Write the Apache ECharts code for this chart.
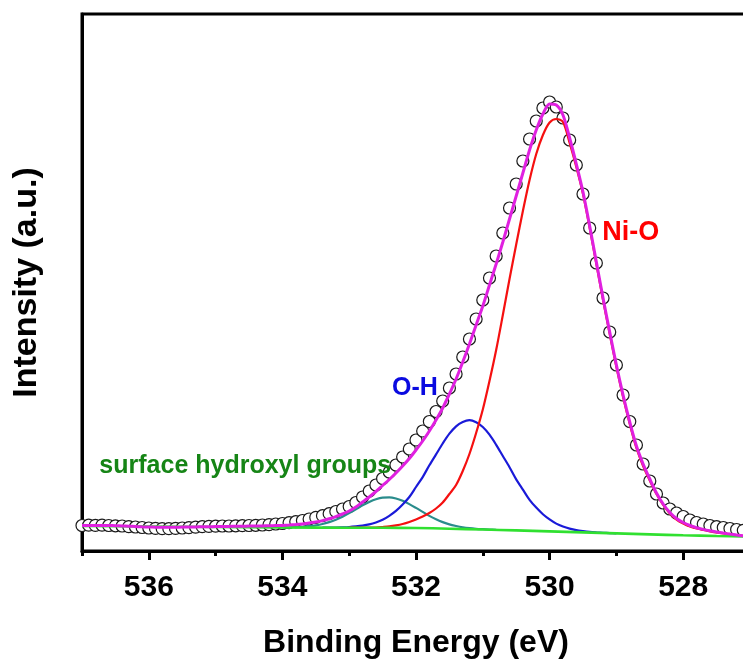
<!DOCTYPE html>
<html>
<head>
<meta charset="utf-8">
<script src="https://cdn.jsdelivr.net/npm/echarts@6/dist/echarts.min.js"></script>
<style>html,body{margin:0;padding:0;background:#fff}#c{width:743px;height:659px}</style>
</head>
<body>
<div id="c"></div>
<script>
// Binding energy grid (eV), 537.0 -> 527.0
var energy = [537.0,536.9,536.8,536.7,536.6,536.5,536.4,536.3,536.2,536.1,
536.0,535.9,535.8,535.7,535.6,535.5,535.4,535.3,535.2,535.1,
535.0,534.9,534.8,534.7,534.6,534.5,534.4,534.3,534.2,534.1,
534.0,533.9,533.8,533.7,533.6,533.5,533.4,533.3,533.2,533.1,
533.0,532.9,532.8,532.7,532.6,532.5,532.4,532.3,532.2,532.1,
532.0,531.9,531.8,531.7,531.6,531.5,531.4,531.3,531.2,531.1,
531.0,530.9,530.8,530.7,530.6,530.5,530.4,530.3,530.2,530.1,
530.0,529.9,529.8,529.7,529.6,529.5,529.4,529.3,529.2,529.1,
529.0,528.9,528.8,528.7,528.6,528.5,528.4,528.3,528.2,528.1,
528.0,527.9,527.8,527.7,527.6,527.5,527.4,527.3,527.2,527.1,
527.0];
// measured intensity (open circles)
var measured = [25.5,25.8,25.6,25.9,25.5,25.2,25.0,24.4,24.0,23.5,
23.0,22.6,22.4,22.3,22.6,23.0,23.4,23.9,24.3,24.6,
24.8,25.0,25.0,25.2,25.3,25.5,25.7,26.0,26.4,27.0,
27.5,28.3,29.3,30.5,32,33.6,35.3,37.3,39.5,42,
44.5,48.5,54,60,66,72.5,79,86,94,102,
111,120,129.5,139.5,150,163,177,194,212,232,
251,273,295,318,343,367,390,412,430,443,
449,444,433,411,386,357,323,288,253,219,
186,156,129.5,106,87,70,57,48,42,38,
34.5,31,28.5,27,25.5,24.3,23.5,22.5,21.5,20.7,
20];
// fitted envelope (magenta)
var envelope = [25.5,25.5,25.6,25.6,25.5,25.3,25.1,24.8,24.5,24.2,
24.0,23.8,23.7,23.7,23.8,23.9,24.0,24.1,24.2,24.3,
24.4,24.5,24.6,24.7,24.8,24.9,25.0,25.1,25.2,25.4,
25.6,26.0,26.5,27.1,27.9,29.0,30.4,32.2,34.4,37.0,
40,44,49,54,59.5,65.5,71.5,78,85,92.5,
101,110,120,131,143,157,172,189,207,226,
245,266,287,309,332,355,378,401,421,437,
447,446,436,413,387,359,325,289,253,219,
186,156,129,105,87,72,58,47,38.5,32.5,
28.5,25.5,23.3,21.6,20.2,19,17.9,16.9,16,15.2,
14.5];
// Ni-O component (red), 533.0 -> 527.0
var niO = [23.3,23.3,23.3,23.3,23.5,24,24.6,25.6,27,29,
31.5,34.5,38,42.5,48.5,57,66,80,97,118,
141.5,170,201,236,272,306.5,340,371,397,416,
428.5,432,429,408,384,357,323,287,251,217,
184,154,127,103,85,70.5,57,46,37.5,31.5,
27.5,24.5,22.5,21,19.7,18.5,17.5,16.6,15.8,15,
14.4];
// O-H component (blue), 533.4 -> 529.0
var oH = [23.4,23.45,23.5,23.7,24.0,24.6,25.4,26.6,28.5,31.2,
35.2,40.1,46.5,54,64,73.9,85.7,96.6,107.5,117.3,
124.7,129,130.8,128.7,124,116.3,106.2,95,83.8,71.6,
61.4,51.2,43.4,36.8,31.6,27.4,24.5,22.4,20.9,19.9,
19.1,18.6,18.2,17.9,17.7];
// surface hydroxyl component (teal), 534.0 -> 530.8
var surfOH = [23.6,23.7,23.9,24.2,24.8,25.7,27.0,28.9,31.3,34.3,
37.9,41.8,45.7,49.1,51.8,53.4,53.6,52.5,50.2,46.9,
43.1,39.1,35.1,31.7,28.9,26.6,25.0,23.7,22.8,22.2,
21.8,21.45,21.2];
// background (green)
var baselineE = [537,536,535,534,533,532.5,532,531.5,531,530.5,530,529.5,529,528.5,528,527.5,527];
var baseline  = [25,24.5,24,23.5,23.3,23.2,23,22.3,21.5,20.6,19.6,18.6,17.6,16.6,15.7,15,14.5];
// tick values
var majorTicks = [528,530,532,534,536];
var minorTicks = [529,531,533,535,537];
// annotations [energy, intensity, text]
var annotations = [[529.21,318,'Ni-O'],[532.36,163,'O-H'],[536.74,84.5,'surface hydroxyl groups']];
var annotationColors = ['#ff0000','#0a0ae0','#168516'];
var annotationSizes = [27,25,25];

function pairs(xs, ys){ return ys.map(function(v,i){ return [xs[i], v]; }); }

var FONT = '"Liberation Sans", Arial, sans-serif';
var chart = echarts.init(document.getElementById('c'), null, {renderer:'canvas'});
chart.setOption({
  animation: false,
  backgroundColor: '#fff',
  grid: {left: 82, top: 14, width: 668, height: 537, outerBoundsMode: 'none', containLabel: false,
    show: true, borderColor: '#000', borderWidth: 3, backgroundColor: 'transparent'},
  xAxis: [{
    type: 'value', min: 527, max: 537, inverse: true, interval: 1,
    axisLine: {show: true, lineStyle: {color: '#000', width: 3}},
    axisTick: {show: true, customValues: majorTicks, length: 9, lineStyle: {color: '#000', width: 3}},
    axisLabel: {show: true, customValues: majorTicks, margin: 22, fontSize: 30, fontWeight: 'bold', fontFamily: FONT, color: '#000'},
    splitLine: {show: false},
    name: 'Binding Energy (eV)', nameLocation: 'middle', nameGap: 76,
    nameTextStyle: {fontSize: 32, fontWeight: 'bold', fontFamily: FONT, color: '#000'}
  },{
    type: 'value', min: 527, max: 537, inverse: true, interval: 1, position: 'bottom',
    axisLine: {show: false},
    axisTick: {show: true, customValues: minorTicks, length: 5, lineStyle: {color: '#000', width: 3}},
    axisLabel: {show: false}, splitLine: {show: false}
  }],
  yAxis: {
    type: 'value', min: 0, max: 537,
    axisLine: {show: true, lineStyle: {color: '#000', width: 3}},
    axisTick: {show: false}, axisLabel: {show: false}, splitLine: {show: false},
    name: 'Intensity (a.u.)', nameLocation: 'middle', nameGap: 38, nameRotate: 90,
    nameTextStyle: {fontSize: 34, fontWeight: 'bold', fontFamily: FONT, color: '#000'}
  },
  series: [
    {type:'line', data: pairs(energy.slice(30,63), surfOH), showSymbol:false, smooth:0.3, lineStyle:{color:'#2a8c8c', width:2.2}},
    {type:'line', data: pairs(energy.slice(36,81), oH), showSymbol:false, smooth:0.3, lineStyle:{color:'#1a1ad8', width:2.2}},
    {type:'line', data: pairs(energy.slice(40), niO), showSymbol:false, smooth:0.3, lineStyle:{color:'#f51010', width:2.2}},
    {type:'line', data: pairs(baselineE, baseline), showSymbol:false, smooth:0.3, lineStyle:{color:'#30e030', width:2.6}},
    {type:'scatter', data: pairs(energy, measured), symbol:'circle', symbolSize: 12,
      itemStyle:{color:'#ffffff', borderColor:'#1a1a1a', borderWidth:1.2, opacity:1}},
    {type:'line', data: pairs(energy, envelope), showSymbol:false, smooth:0.3, lineStyle:{color:'#e020e0', width:3}},
    {type:'scatter', symbolSize: 0, silent: true, itemStyle:{opacity:1},
      data: annotations.map(function(a,i){
        return {value:[a[0],a[1]], label:{show:true, position:'right', distance:0, formatter:a[2],
          color: annotationColors[i], fontSize: annotationSizes[i], fontWeight:'bold', fontFamily: FONT}};
      })}
  ]
});
</script>
</body>
</html>
